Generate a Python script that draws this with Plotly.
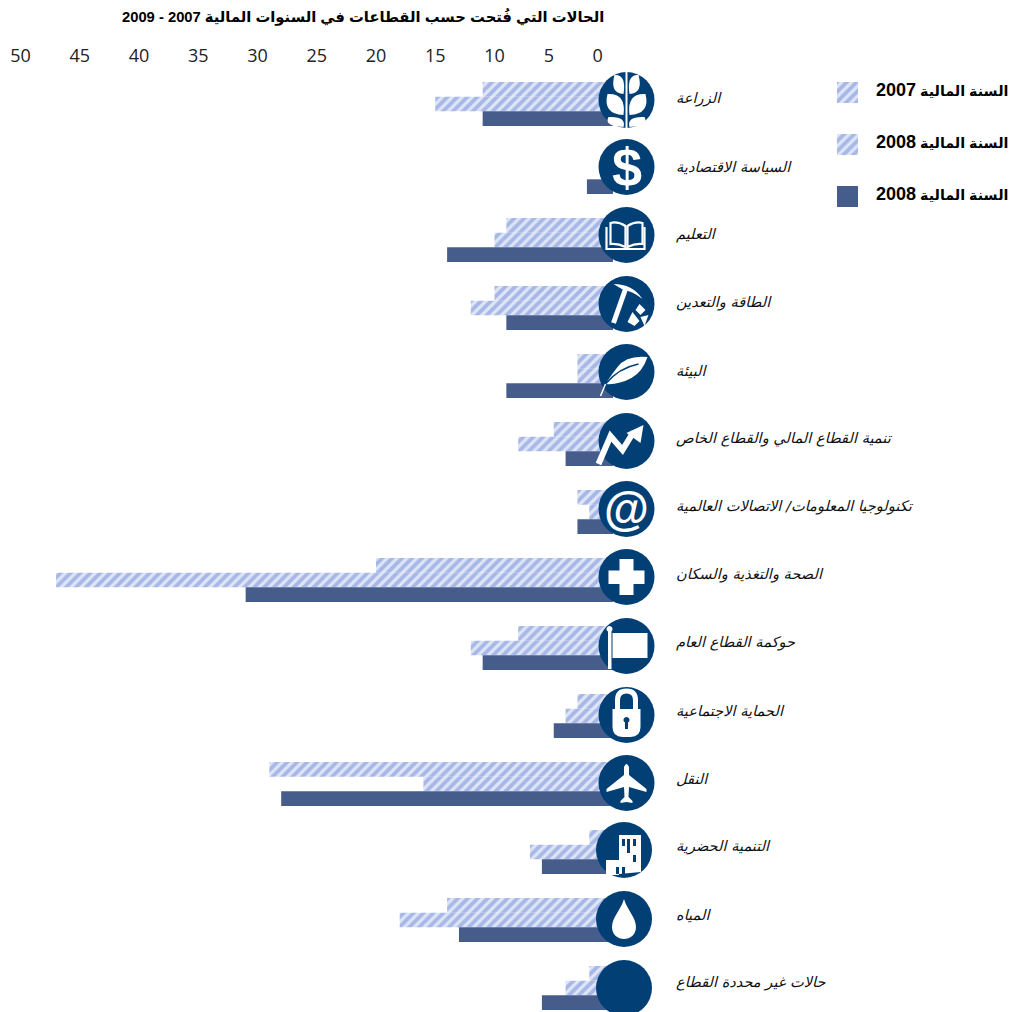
import re
import plotly.graph_objects as go

SECTORS = ["الزراعة", "السياسة الاقتصادية", "التعليم", "الطاقة والتعدين", "البيئة",
           "تنمية القطاع المالي والقطاع الخاص", "تكنولوجيا المعلومات/ الاتصالات العالمية",
           "الصحة والتغذية والسكان", "حوكمة القطاع العام", "الحماية الاجتماعية", "النقل",
           "التنمية الحضرية", "المياه", "حالات غير محددة القطاع"]
FY2007 = [11, 0, 9, 10, 3, 5, 3, 20, 8, 3, 29, 2, 14, 2]
FY2008_HATCH = [15, 0, 10, 12, 3, 8, 2, 47, 12, 4, 16, 7, 18, 4]
FY2008_SOLID = [11, 2.2, 14, 9, 9, 4, 3, 31, 11, 5, 28, 6, 13, 6]
LEGEND = ["السنة المالية 2007", "السنة المالية 2008", "السنة المالية 2008"]
TITLE = "الحالات التي فُتحت حسب القطاعات في السنوات المالية 2007 - 2009"
TICK_POS = [50, 45, 40, 35, 30, 25, 20, 15, 10, 5.4, 1.3]
TICK_TXT = ["50", "45", "40", "35", "30", "25", "20", "15", "10", "5", "0"]

W = H = 1012
ZERO_PX, UNIT_PX = 613.0, 11.85
ROW0_PX, ROW_PX = 104.0, 68.0
NAVY, SOLID, HATCH = "#023f75", "#465c8b", "#6f8cd8"
rows = list(range(len(SECTORS)))
pattern = dict(shape="/", size=7, solidity=0.55, fgcolor=HATCH, bgcolor="#dfe5f6")

fig = go.Figure()
fig.add_bar(y=rows, x=FY2007, orientation="h", name=LEGEND[0], marker=dict(color="white", pattern=pattern, line_width=0))
fig.add_bar(y=rows, x=FY2008_HATCH, orientation="h", name=LEGEND[1], marker=dict(color="white", pattern=pattern, line_width=0))
fig.add_bar(y=rows, x=FY2008_SOLID, orientation="h", name=LEGEND[2], marker=dict(color=SOLID, line_width=0))

# legend swatches are bars on their own small axes
for i, (name, mk) in enumerate(zip(LEGEND, [dict(color="white", pattern=pattern), dict(color="white", pattern=pattern), dict(color=SOLID)])):
    fig.add_bar(y=[i], x=[1], orientation="h", name=name, marker=dict(line_width=0, **mk), xaxis="x2", yaxis="y2", width=0.404)

# icon discs
def xv(px): return (ZERO_PX - px) / UNIT_PX
def yv(px): return (px - ROW0_PX) / ROW_PX
CX = [626.5] * 11 + [624, 624, 624]
CY = [100, 167, 235, 304, 372, 441, 509, 577, 646, 715, 783, 850, 919, 988]
fig.add_scatter(x=[xv(c) for c in CX], y=[yv(c) for c in CY], mode="markers",
                marker=dict(size=56, color=NAVY, line_width=0), hoverinfo="skip")

def to_paper(path, cx, cy):
    n = [0]
    def rep(m):
        v = float(m.group(0))
        n[0] += 1
        return f"{(cx + v) / W:.5f}" if n[0] % 2 else f"{1 - (cy + v) / H:.5f}"
    return re.sub(r"-?\d+\.?\d*", rep, path)

def leaf(tx, ty, bx, by, s=1):
    return (f"M {bx*s} {by} Q {(tx-5)*s} {by-1} {tx*s} {ty} Q {(bx+3)*s} {ty-1} {bx*s} {by} Z")

def oval(x, y, r):
    k = r * 0.55
    return (f"M {x-r} {y} C {x-r} {y-k} {x-k} {y-r} {x} {y-r} C {x+k} {y-r} {x+r} {y-k} {x+r} {y} "
            f"C {x+r} {y+k} {x+k} {y+r} {x} {y+r} C {x-k} {y+r} {x-r} {y+k} {x-r} {y} Z")

W_FILL = dict(fillcolor="white", line_width=0)
N_FILL = dict(fillcolor=NAVY, line_width=0)
def W_LINE(w): return dict(fillcolor="rgba(0,0,0,0)", line=dict(color="white", width=w))
def N_LINE(w): return dict(fillcolor="rgba(0,0,0,0)", line=dict(color=NAVY, width=w))

ICONS = {
    0: [("M -1 -28 L 1 -28 L 1 28 L -1 28 Z", W_FILL)]
       + [(leaf(tx, ty, bx, by, s), W_FILL) for s in (1, -1)
          for tx, ty, bx, by in [(-12, -25, -3, -6), (-19, -6, -3, 15), (-18, 17, -3, 27)]],
    2: [("M -1 -9 Q -9 -14 -16 -12 L -16 9 Q -9 8 -1 12 Z", W_LINE(2.2)),
        ("M 1 -9 Q 9 -14 16 -12 L 16 9 Q 9 8 1 12 Z", W_LINE(2.2)),
        ("M -20 -8 L -20 14 L 18 14 L 18 -8", W_LINE(2.2))],
    3: [("M -13 -20 Q 6 -20 16 -5 Q 6 -13 -3 -14 Z", W_FILL),
        ("M -1 -15 L -13 19", W_LINE(5)),
        ("M 1 18 L 6 8 L 13 17 L 8 22 Z", W_FILL), ("M 9 6 L 13 0 L 19 6 L 14 11 Z", W_FILL),
        ("M 14 13 L 22 11 L 18 22 Z", W_FILL)],
    4: [("M 21 -15 Q 0 -17 -9 -5 Q -16 4 -21 12 Q -8 13 5 6 Q 16 0 21 -15 Z", W_FILL),
        ("M 12 -8 Q -8 -4 -21 12", N_LINE(1.5)), ("M -21 12 L -26 24", W_LINE(1.5))],
    5: [("M -28 23 L -16 -5 L -4 9 L 7 -9", W_LINE(6)), ("M 0 -8 L 17 -16 L 14 2 Z", W_FILL)],
    7: [("M -18 -6.5 L -7 -6.5 L -7 -18 L 7 -18 L 7 -6.5 L 18 -6.5 L 18 7 L 7 7 L 7 18 L -7 18 L -7 7 L -18 7 Z", W_FILL)],
    8: [("M -18.5 -17 L -15 -17 L -15 23 L -18.5 23 Z", W_FILL), (oval(-17, -17, 3), W_FILL),
        ("M -14 -13 L 21 -13 L 21 12 L -14 12 Z", W_FILL)],
    9: [("M -9 -6 L -9 -15 Q -9 -24 0 -24 Q 9 -24 9 -15 L 9 -6", W_LINE(5)),
        ("M -14 -6 L 14 -6 L 14 12 Q 14 22 4 22 L -4 22 Q -14 22 -14 12 Z", W_FILL),
        (oval(0, 5, 3), N_FILL), ("M -1.5 5 L 1.5 5 L 1.5 14 L -1.5 14 Z", N_FILL)],
    10: [("M -2.5 -16 Q 0 -22 2.5 -16 L 2.5 -8 L 20 6 L 20 9 L 2.5 4 L 2 14 L 6 18 L 6 20 L 0 19 L -6 20 L -6 18 L -2 14 L -2.5 4 L -20 9 L -20 6 L -2.5 -8 Z", W_FILL)],
    11: [("M -5 -15 L 17 -15 L 17 22 L -5 24 Z", W_FILL), ("M -18 10 L -5 10 L -5 25 L -18 25 Z", W_FILL)]
        + [(f"M {x} {y} L {x+3} {y} L {x+3} {y+7} L {x} {y+7} Z", N_FILL)
           for x, y in [(-2, -11), (3, -11), (9, -11), (3, -4), (9, 5), (-8, 17), (-2, 17)]],
    12: [("M 0 -20 C -3 -9 -12 -2 -12 8 C -12 16 -6 20 0 20 C 6 20 12 16 12 8 C 12 -2 3 -9 0 -20 Z", W_FILL)],
}
shapes = []
for i, parts in ICONS.items():
    for path, style in parts:
        shapes.append(dict(type="path", xref="paper", yref="paper", path=to_paper(path, CX[i], CY[i]), layer="above", **style))

ann = []
for i, s in zip(rows, SECTORS):
    ann.append(dict(x=xv(674), y=i, xref="x", yref="y", text=s, showarrow=False, xanchor="left", yanchor="middle", yshift=6,
                    font=dict(family="DejaVu Sans", size=14.6, style="italic", color="#111")))
for i, s in enumerate(LEGEND):
    txt = re.sub(r"(\d+)", r'<span style="font-size:18px">\1</span>', s)
    ann.append(dict(x=1010 / W, y=1 - (90 + 52 * i) / H, xref="paper", yref="paper", text=txt, showarrow=False,
                    xanchor="right", yanchor="middle", font=dict(family="Liberation Sans, DejaVu Sans", size=14.3, weight="bold", color="black")))
ann.append(dict(x=363 / W, y=1 - 17 / H, xref="paper", yref="paper", text=TITLE, showarrow=False, yanchor="middle",
                font=dict(family="Liberation Sans, DejaVu Sans", size=14.75, weight="bold", color="black")))
for i, g in [(1, "$"), (6, "@")]:
    ann.append(dict(x=xv(CX[i]), y=yv(CY[i]), xref="x", yref="y", text=g, showarrow=False, yanchor="middle",
                    font=dict(family="Liberation Sans", size=54 if g == "$" else 46, weight="bold", color="white")))

fig.update_layout(
    width=W, height=H, margin=dict(l=0, r=0, t=0, b=0), plot_bgcolor="white", paper_bgcolor="white",
    barmode="group", bargap=0.353, bargroupgap=0, showlegend=False, shapes=shapes, annotations=ann,
    xaxis=dict(range=[ZERO_PX / UNIT_PX, (ZERO_PX - W) / UNIT_PX], side="top", anchor="free", position=1 - 66 / H,
               tickvals=TICK_POS, ticktext=TICK_TXT, automargin=False,
               showgrid=False, zeroline=False, showline=False, ticks="",
               tickfont=dict(family="Open Sans", size=18, color="#222")),
    yaxis=dict(range=[(H - ROW0_PX) / ROW_PX, -ROW0_PX / ROW_PX], visible=False),
    xaxis2=dict(domain=[837 / W, 858 / W], range=[0, 1], visible=False, anchor="y2"),
    yaxis2=dict(domain=[1 - 207 / H, 1 - 82 / H], range=[2.202, -0.202], visible=False, anchor="x2"),
)
fig.write_html("out.html", config={"displayModeBar": False}, post_script="document.body.style.margin='0';")
